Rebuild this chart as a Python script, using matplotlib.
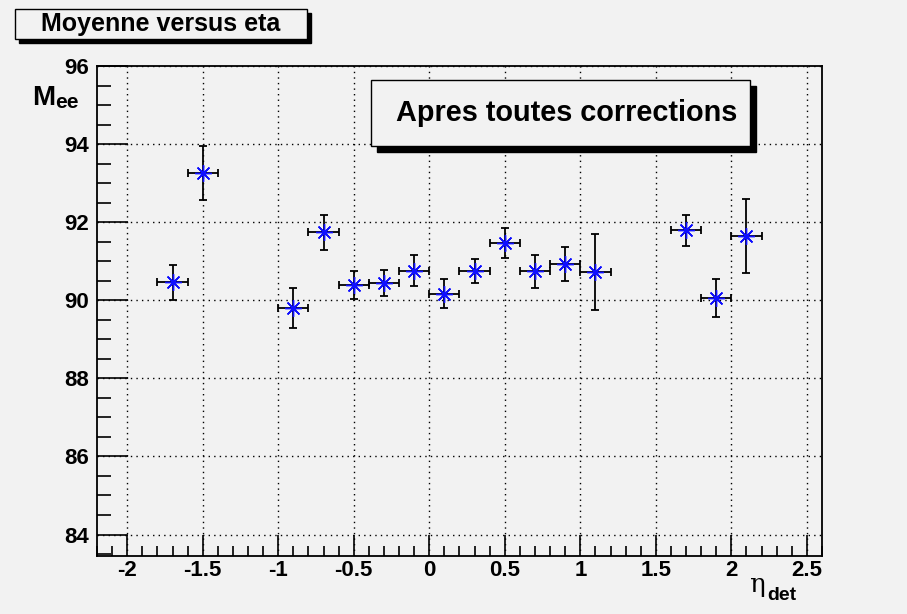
import matplotlib
matplotlib.use("Agg")
import matplotlib.pyplot as plt
from matplotlib.patches import Rectangle
from matplotlib.ticker import MultipleLocator, FuncFormatter

# data
eta = [-1.7, -1.5, -0.9, -0.7, -0.5, -0.3, -0.1, 0.1, 0.3, 0.5, 0.7, 0.9, 1.1, 1.7, 1.9, 2.1]
mee = [90.46, 93.25, 89.80, 91.74, 90.39, 90.44, 90.76, 90.17, 90.74, 91.46, 90.74, 90.93, 90.72, 91.79, 90.06, 91.64]
mee_err = [0.45, 0.69, 0.51, 0.45, 0.36, 0.34, 0.40, 0.37, 0.31, 0.38, 0.42, 0.43, 0.97, 0.40, 0.48, 0.95]
eta_err = [0.1] * len(eta)

BG = "#f2f2f2"
W, H = 907, 614
plt.rcParams['font.family'] = ['Liberation Sans', 'DejaVu Sans']

fig = plt.figure(figsize=(W / 100, H / 100), dpi=100, facecolor=BG)
ax = fig.add_axes([97 / W, 1 - 556 / H, (822 - 97) / W, (556 - 66) / H], facecolor=BG)

ax.errorbar(eta, mee, xerr=eta_err, yerr=mee_err, fmt='none', ecolor='black',
            elinewidth=1.3, capsize=3, capthick=1.3, zorder=3)
ax.plot(eta, mee, 'o', color='black', ms=3, zorder=4)
ax.plot(eta, mee, linestyle='none', marker=(8, 2, 0), color='#1010ff', ms=12,
        mew=1.0, zorder=5)

ax.set_xlim(-2.2, 2.6)
ax.set_ylim(83.45, 96)
ax.xaxis.set_major_locator(MultipleLocator(0.5))
ax.xaxis.set_minor_locator(MultipleLocator(0.1))
ax.yaxis.set_major_locator(MultipleLocator(2))
ax.yaxis.set_minor_locator(MultipleLocator(0.5))
ax.tick_params(which='both', direction='in', top=False, right=False, width=1.2)
ax.tick_params(which='major', labelsize=16)
ax.tick_params(axis='x', which='major', length=15, pad=3)
ax.tick_params(axis='x', which='minor', length=7)
ax.tick_params(axis='y', which='major', length=22, pad=6)
ax.tick_params(axis='y', which='minor', length=10)
ax.xaxis.set_major_formatter(FuncFormatter(lambda v, p: f"{v:g}"))
ax.yaxis.set_major_formatter(FuncFormatter(lambda v, p: f"{v:g}"))
for lab in ax.get_xticklabels() + ax.get_yticklabels():
    lab.set_fontweight('bold')
ax.grid(True, which='major', color='black', linestyle=(0, (1, 3)), linewidth=1.0)
for s in ax.spines.values():
    s.set_linewidth(1.3)

# axis titles, ROOT style
fig.text(32 / W, 1 - 105 / H, "M", fontsize=20, fontweight='bold', ha='left', va='baseline')
fig.text(55 / W, 1 - 108 / H, "ee", fontsize=15, fontweight='bold', ha='left', va='baseline')
fig.text(749 / W, 1 - 592 / H, "η", fontsize=19, family=['DejaVu Serif'], ha='left', va='baseline')
fig.text(767 / W, 1 - 600 / H, "det", fontsize=14, fontweight='bold', ha='left', va='baseline')


def shadow_box(x0, y0, x1, y1, off, text, size, dx=0):
    # pixel coordinates, origin top-left
    fig.patches.append(Rectangle(((x0 + off) / W, 1 - (y1 + off) / H), (x1 - x0) / W, (y1 - y0) / H,
                                 transform=fig.transFigure, facecolor='black', edgecolor='black',
                                 zorder=10))
    fig.patches.append(Rectangle((x0 / W, 1 - y1 / H), (x1 - x0) / W, (y1 - y0) / H,
                                 transform=fig.transFigure, facecolor=BG, edgecolor='black',
                                 linewidth=1.0, zorder=11))
    fig.text(((x0 + x1) / 2 + dx) / W, 1 - (y0 + y1) / 2 / H, text, fontsize=size, fontweight='bold',
             ha='center', va='center', zorder=12)


shadow_box(15, 9, 307, 39, 4, "Moyenne versus eta", 18)
shadow_box(371, 80, 750, 146, 6, "Apres toutes corrections", 20.8, dx=6)

fig.savefig("out.png", dpi=100, facecolor=BG)
